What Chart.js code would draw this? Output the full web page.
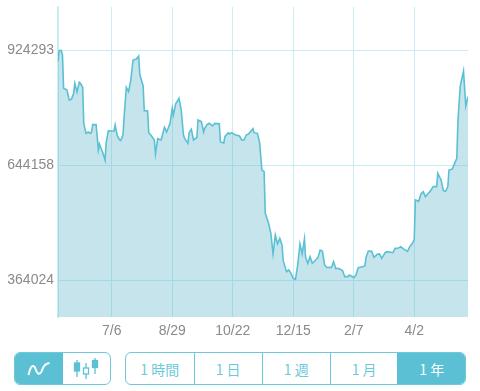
<!DOCTYPE html>
<html>
<head>
<meta charset="utf-8">
<script src="https://cdn.jsdelivr.net/npm/chart.js@4"></script>
<style>
html, body { margin: 0; padding: 0; background: #fff; width: 480px; height: 391px; overflow: hidden; }
#myChart { position: absolute; left: 0; top: 0; }
.grupo { position: absolute; top: 352px; height: 33px; box-sizing: border-box; display: flex;
    border: 1.5px solid #6ec9da; border-radius: 6px; overflow: hidden; background: #fff; }
.grupo div { box-sizing: border-box; height: 100%; display: flex; align-items: center; justify-content: center;
    border-left: 1.5px solid #6ec9da; color: #6ec9da; font: 400 14px "Noto Sans CJK JP", sans-serif; }
.grupo div:first-child { border-left: 0; }
.grupo div.activo { background: #5bc0d3; color: #fff; border-color: #5bc0d3; }
</style>
</head>
<body>
<canvas id="myChart" width="480" height="340"></canvas>

<div class="grupo" style="left:14px;width:97px">
    <div class="activo" style="width:48px">
        <svg width="24" height="16" viewBox="0 0 24 16"><path d="M1.5 14 C4 3 7 3 9 9 C11 15 14 13 15.500 8 C17 4 19 2.500 22.500 2" fill="none" stroke="#fff" stroke-width="2"/></svg>
    </div>
    <div style="width:46px;border-left:0">
        <svg width="26" height="22" viewBox="0 0 26 22"><g stroke="#5bc0d3" stroke-width="1.3" fill="#5bc0d3"><path d="M4 2V19"/><rect x="1.500" y="5" width="5" height="8"/><path d="M13 5V21"/><rect x="10.500" y="10" width="5" height="6" fill="#fff"/><path d="M22 0V16"/><rect x="19.500" y="2.500" width="5" height="7"/></g></svg>
    </div>
</div>

<div class="grupo" id="rangos" style="left:125px;width:341px"></div>

<script>
// Datos
const dias = [0, 1, 3, 4, 5, 8, 10, 12, 14, 15, 17, 19, 20, 22, 23, 25, 27, 29, 30, 31, 34, 35, 36, 37, 39, 40, 42, 43, 45, 47,
    50, 51, 53, 55, 56, 58, 59, 61, 63, 65, 67, 70, 72, 73, 74, 76, 77, 80, 81, 83, 86, 87, 89, 92, 93, 95, 97, 100, 102, 103,
    105, 108, 110, 112, 113, 116, 117, 119, 121, 124, 125, 128, 130, 131, 133, 135, 138, 140, 144, 145, 148, 149, 152, 153, 155, 158, 162, 164, 166, 168,
    170, 174, 175, 178, 180, 182, 184, 185, 188, 190, 192, 194, 196, 198, 200, 201, 204, 206, 208, 210, 212, 214, 216, 218, 220, 221, 223, 225, 227, 230,
    232, 234, 236, 238, 240, 242, 244, 246, 248, 250, 252, 254, 256, 259, 260, 263, 264, 266, 268, 272, 274, 275, 277, 280, 282, 285, 287, 289, 292, 294,
    299, 301, 304, 306, 308, 312, 314, 316, 318, 319, 322, 324, 326, 328, 330, 332, 335, 338, 339, 342, 344, 346, 348, 349, 352, 354, 356, 357, 359, 362, 364, 366];

const valores = [895884, 922680, 922680, 912124, 830924, 826864, 802504, 804128, 818744, 843104, 821992, 845540, 843104, 833360, 745664, 721304, 724552, 721304, 725364, 742416, 742416, 713184, 680704, 695320, 680704, 674208, 656344, 698568, 727800, 726988,
    726988, 741604, 714808, 705064, 703440, 717244, 760280, 833360, 822804, 851224, 899944, 902380, 909688, 865840, 855284, 836608, 776520, 775708, 722928, 716432, 705064, 670960, 708312, 705064, 714808, 735920, 724552, 745664, 782204, 765964,
    792760, 806564, 778144, 717244, 709124, 696944, 722928, 731048, 705064, 711560, 753784, 749724, 724552, 733484, 742416, 745664, 739168, 745664, 744852, 700192, 697756, 713184, 722928, 719680, 722928, 718056, 714808, 705064, 705064, 717244,
    719680, 732672, 722928, 721304, 698568, 631984, 627924, 526424, 502064, 477704, 427360, 473644, 451720, 465524, 449284, 411120, 384324, 388384, 380264, 368084, 365648, 400564, 451720, 427360, 463900, 419240, 404624, 420864, 404624, 412744,
    418428, 437104, 434668, 400564, 394068, 394880, 394068, 408684, 391632, 392444, 390008, 386760, 372144, 372144, 376204, 372144, 369708, 376204, 394068, 396504, 398940, 419240, 434668, 433856, 419240, 426548, 427360, 416804, 430608, 433044,
    430608, 441164, 441976, 445224, 440352, 433856, 445224, 451720, 462276, 558904, 555656, 573520, 579204, 567024, 573520, 579204, 591384, 591384, 623864, 607624, 581640, 580016, 591384, 631984, 634420, 648224, 660404, 749724, 834984, 873148, 787888, 810624];

const marcasY = [364024, 644158, 924293];
const marcasX = [48, 102, 156, 210, 264, 318];
const etiquetasX = ['7/6', '8/29', '10/22', '12/15', '2/7', '4/2'];
const rangos = ['1 時間', '1 日', '1 週', '1 月', '1 年'];
const anchosRango = [68, 68.5, 68.5, 68, 68];

document.addEventListener('DOMContentLoaded', function() {
    const contenedor = document.getElementById('rangos');
    rangos.forEach(function(texto, i) {
        const b = document.createElement('div');
        b.textContent = texto;
        b.style.width = anchosRango[i] + 'px';
        if (i === rangos.length - 1) b.className = 'activo';
        contenedor.appendChild(b);
    });

    const ctx = document.getElementById('myChart').getContext('2d');
    new Chart(ctx, {
        type: 'line',
        data: {
            datasets: [{
                data: dias.map(function(d, i) { return { x: d, y: valores[i] }; }),
                borderColor: '#5bc0d3',
                borderWidth: 1.6,
                backgroundColor: 'rgba(92, 178, 201, 0.35)',
                fill: 'start',
                tension: 0,
                pointRadius: 0
            }]
        },
        options: {
            responsive: false,
            animation: false,
            layout: { autoPadding: false, padding: { top: 7, right: 12 } },
            plugins: { legend: { display: false }, tooltip: { enabled: false } },
            scales: {
                x: {
                    type: 'linear',
                    min: 0,
                    max: 366,
                    afterBuildTicks: function(axis) {
                        axis.ticks = marcasX.map(function(v) { return { value: v }; });
                    },
                    afterFit: function(axis) { axis.height = 23; },
                    ticks: {
                        autoSkip: false,
                        maxRotation: 0,
                        padding: 6,
                        color: '#8a8a8a',
                        font: { family: 'Liberation Sans', size: 14 },
                        callback: function(v) { return etiquetasX[marcasX.indexOf(v)]; }
                    },
                    grid: { color: '#c8eef3', lineWidth: 1, drawTicks: false },
                    border: { display: false }
                },
                y: {
                    min: 273892,
                    max: 1029052,
                    afterBuildTicks: function(axis) {
                        axis.ticks = marcasY.map(function(v) { return { value: v }; });
                    },
                    afterFit: function(axis) {
                        axis.width = 58;
                        axis.paddingTop = 0;
                        axis.paddingBottom = 0;
                    },
                    ticks: {
                        padding: 4,
                        color: '#8a8a8a',
                        font: { family: 'Liberation Sans', size: 14 },
                        callback: function(v) { return String(v); }
                    },
                    grid: { color: '#c8eef3', lineWidth: 1, drawTicks: false },
                    border: { display: true, color: '#c8eef3', width: 2 }
                }
            }
        }
    });
});
</script>
</body>
</html>
